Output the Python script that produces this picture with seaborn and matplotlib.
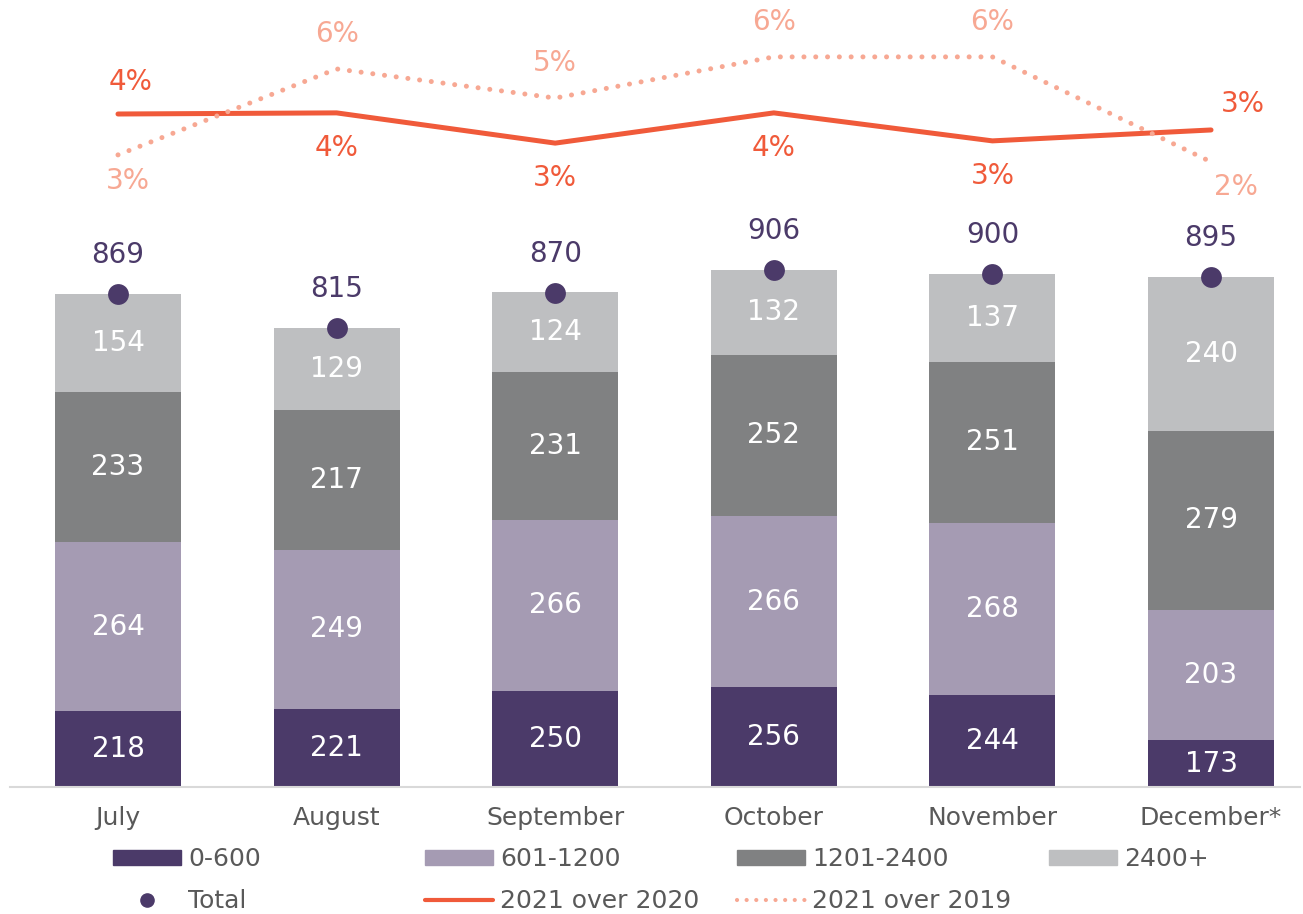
import numpy as np
import pandas as pd
import matplotlib
matplotlib.use('Agg')
import matplotlib.pyplot as plt
from matplotlib.lines import Line2D
from matplotlib.patches import Patch
import seaborn as sns

sns.set_theme(style='white')
plt.rcParams['font.family'] = ['DejaVu Sans']

# Data
months = ['July', 'August', 'September', 'October', 'November', 'December*']
band_names = ['0-600', '601-1200', '1201-2400', '2400+']
band_0_600 = [218, 221, 250, 256, 244, 173]
band_601_1200 = [264, 249, 266, 266, 268, 203]
band_1201_2400 = [233, 217, 231, 252, 251, 279]
band_2400_plus = [154, 129, 124, 132, 137, 240]
totals = [869, 815, 870, 906, 900, 895]
growth_vs_2020 = [4.0, 4.04, 2.96, 4.04, 3.04, 3.43]
growth_vs_2019 = [2.54, 5.61, 4.57, 6.04, 6.04, 2.29]

colors = ['#4B3A69', '#A59BB3', '#808182', '#BEBFC1']
c_2020 = '#F05A3A'
c_2019 = '#F7A893'
c_text = '#595959'

bands = [band_0_600, band_601_1200, band_1201_2400, band_2400_plus]

fig = plt.figure(figsize=(13.03, 9.14), dpi=100)
ax = fig.add_axes([10 / 1303, 1 - 787 / 914, 1290 / 1303, 777 / 914])

bottom = np.zeros(len(months))
for name, vals, col in zip(band_names, bands, colors):
    df = pd.DataFrame({'month': months, 'value': vals})
    sns.barplot(data=df, x='month', y='value', bottom=bottom, color=col,
                width=0.576, saturation=1, ax=ax, linewidth=0)
    bottom = bottom + np.array(vals)

for cont in ax.containers:
    ax.bar_label(cont, labels=[f'{int(v)}' for v in cont.datavalues],
                 label_type='center', color='white', fontsize=20)

ax.set_ylim(100, 1311)
xpos = np.arange(len(months))
ax.set_xlim(-0.494, 5.407)

# totals
sns.scatterplot(x=xpos, y=totals, color=colors[0], s=225, linewidth=0,
                ax=ax, zorder=5)
for x, t in zip(xpos, totals):
    ax.annotate(f'{t}', (x, t), xytext=(0, 28), textcoords='offset points',
                ha='center', va='center', color=colors[0], fontsize=20)

ax.set_xlabel('')
ax.set_ylabel('')
ax.set_yticks([])
for s in ['left', 'right', 'top']:
    ax.spines[s].set_visible(False)
ax.spines['bottom'].set_color('#D9D9D9')
ax.spines['bottom'].set_linewidth(1.5)
ax.tick_params(axis='x', length=0, pad=13.5, labelsize=18, labelcolor=c_text)

# growth lines on secondary axis
ax2 = ax.twinx()
sns.lineplot(x=xpos, y=growth_vs_2020, color=c_2020, lw=3.6,
             solid_capstyle='round', ax=ax2)
sns.lineplot(x=xpos, y=growth_vs_2019, color=c_2019, lw=3.6,
             linestyle=(0, (0.01, 2.35)), dash_capstyle='round', ax=ax2)
ax2.set_ylim(4 - 673 / 28, 4 + 104 / 28)
ax2.set_xlim(-0.494, 5.407)
ax2.set_yticks([])
ax2.set_ylabel('')
for s in ax2.spines.values():
    s.set_visible(False)

off_2020 = [(9, 23), (0, -25), (0, -25), (0, -25), (0, -25), (23, 19)]
off_2019 = [(7, -19), (0, 25), (0, 25), (0, 25), (0, 25), (18, -18)]
for x, v, o in zip(xpos, growth_vs_2020, off_2020):
    ax2.annotate(f'{v:.0f}%', (x, v), xytext=o, textcoords='offset points',
                 ha='center', va='center', color=c_2020, fontsize=20)
for x, v, o in zip(xpos, growth_vs_2019, off_2019):
    ax2.annotate(f'{v:.0f}%', (x, v), xytext=o, textcoords='offset points',
                 ha='center', va='center', color=c_2019, fontsize=20)

# legend, one block per column
cols = [
    [(Patch(color=colors[0]), '0-600'),
     (Line2D([], [], ls='none', marker='o', ms=9.5, color=colors[0]), 'Total')],
    [(Patch(color=colors[1]), '601-1200'),
     (Line2D([], [], color=c_2020, lw=3, solid_capstyle='round'), '2021 over 2020')],
    [(Patch(color=colors[2]), '1201-2400'),
     (Line2D([], [], color=c_2019, lw=3, ls=(0, (0.01, 2.3)), dash_capstyle='round'),
      '2021 over 2019')],
    [(Patch(color=colors[3]), '2400+')],
]
for i, entries in enumerate(cols):
    hx = (113 + 312 * i) / 1303
    fig.legend([e[0] for e in entries], [e[1] for e in entries],
               loc='upper left', bbox_to_anchor=(hx, 1 - 847 / 914),
               frameon=False, fontsize=18, handlelength=2.72,
               handleheight=0.55, handletextpad=0.28, labelspacing=0.72,
               borderpad=0, borderaxespad=0, labelcolor=c_text)

fig.savefig('out.png', dpi=100)
